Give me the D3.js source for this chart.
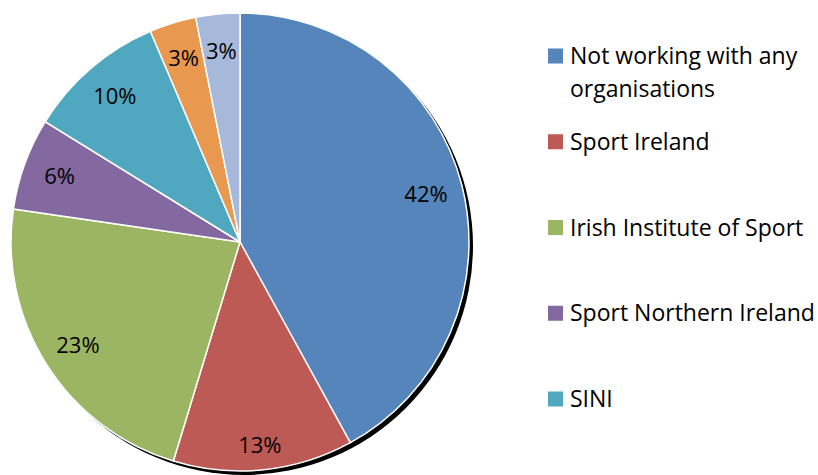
<!DOCTYPE html>
<html>
<head>
<meta charset="utf-8">
<script src="https://cdnjs.cloudflare.com/ajax/libs/d3/7.8.5/d3.min.js"></script>
<style>
  body { margin: 0; background: #fff; }
  text { font-family: "Open Sans", "Noto Sans", sans-serif; fill: #000; }
</style>
</head>
<body>
<svg id="chart" width="818" height="475"></svg>
<script>
// categories, in the order drawn clockwise from 12 o'clock
const categories = [
  "Not working with any organisations",
  "Sport Ireland",
  "Irish Institute of Sport",
  "Sport Northern Ireland",
  "SINI",
  "Other",
  "Other 2"
];
// share of respondents (%)
const shares = [42, 12.7, 22.6, 6.5, 9.8, 3.3, 3.1];
// labels printed on slices
const pctLabels = ["42%", "13%", "23%", "6%", "10%", "3%", "3%"];
const colors = ["#5585BA", "#BD5A55", "#9CB563", "#8369A0", "#4FA8BF", "#E8994F", "#A6B9DA"];
// legend shows only the first five
const legendLines = [
  ["Not working with any", "organisations"],
  ["Sport Ireland"],
  ["Irish Institute of Sport"],
  ["Sport Northern Ireland"],
  ["SINI"]
];

const svg = d3.select("#chart");
const cx = 240, cy = 242, r = 229;

const pie = d3.pie().sort(null).value(d => d)(shares);
const arc = d3.arc().innerRadius(0).outerRadius(r);
const labelArc = d3.arc().innerRadius(192).outerRadius(192);

const g = svg.append("g").attr("transform", `translate(${cx},${cy})`);

// drop shadow
g.append("circle")
  .attr("cx", 4).attr("cy", 4).attr("r", r)
  .attr("fill", "#000");

g.selectAll("path.slice")
  .data(pie)
  .enter()
  .append("path")
  .attr("class", "slice")
  .attr("d", arc)
  .attr("fill", (d, i) => colors[i])
  .attr("stroke", "#fff")
  .attr("stroke-width", 1.5);

g.selectAll("text.pct")
  .data(pie)
  .enter()
  .append("text")
  .attr("class", "pct")
  .attr("transform", (d, i) => {
    const [x, y] = labelArc.centroid(d);
    return `translate(${x},${i === 1 ? y + 12 : y})`;
  })
  .attr("text-anchor", "middle")
  .attr("dy", "0.35em")
  .attr("font-size", "22px")
  .text((d, i) => pctLabels[i]);

// LEGEND
const legendY = d3.scalePoint()
  .domain(d3.range(legendLines.length))
  .range([56, 399]);

const item = svg.selectAll("g.legend")
  .data(legendLines)
  .enter()
  .append("g")
  .attr("class", "legend")
  .attr("transform", (d, i) => `translate(548,${legendY(i)})`);

item.append("rect")
  .attr("x", 0).attr("y", -7.5)
  .attr("width", 15).attr("height", 15)
  .attr("fill", (d, i) => colors[i]);

item.each(function(lines) {
  const t = d3.select(this).append("text")
    .attr("x", 22)
    .attr("font-size", "23px");
  lines.forEach((line, k) => {
    t.append("tspan")
      .attr("x", 22)
      .attr("y", k * 33)
      .attr("dy", "0.35em")
      .text(line);
  });
});
</script>
</body>
</html>
